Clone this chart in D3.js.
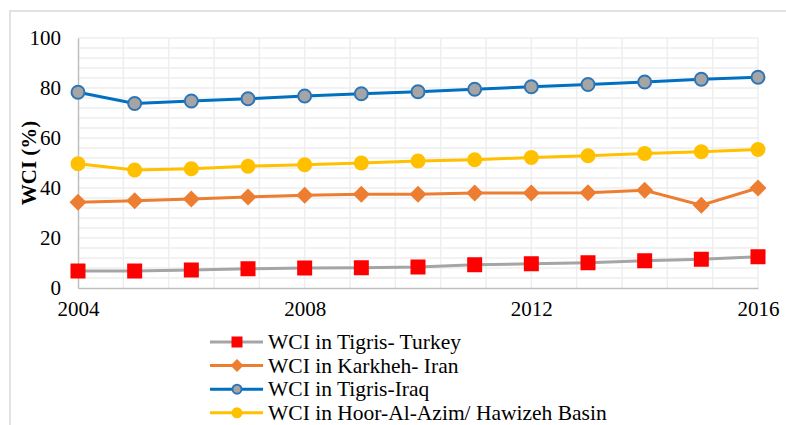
<!DOCTYPE html>
<html>
<head>
<meta charset="utf-8">
<script src="https://cdn.jsdelivr.net/npm/d3@7"></script>
</head>
<body style="margin:0; background:#fff">
<div id="chart"></div>
<script>
// years on the x axis
const years = [2004, 2005, 2006, 2007, 2008, 2009, 2010, 2011, 2012, 2013, 2014, 2015, 2016];
const xTicks = [2004, 2008, 2012, 2016];
const yTicks = [0, 20, 40, 60, 80, 100];

// WCI values (%)
const turkey = [6.8, 6.8, 7.2, 7.7, 8.0, 8.1, 8.4, 9.3, 9.7, 10.1, 10.9, 11.5, 12.5];
const iran   = [34.3, 34.9, 35.6, 36.4, 37.1, 37.5, 37.5, 38.0, 38.0, 38.1, 39.1, 33.1, 40.0];
const iraq   = [78.3, 73.8, 74.8, 75.7, 76.8, 77.7, 78.5, 79.5, 80.5, 81.4, 82.4, 83.5, 84.3];
const hoor   = [49.7, 47.2, 47.7, 48.7, 49.3, 50.0, 50.8, 51.3, 52.2, 52.9, 53.8, 54.5, 55.4];

const seriesNames = [
  "WCI in Tigris- Turkey",
  "WCI in Karkheh- Iran",
  "WCI in Tigris-Iraq",
  "WCI in Hoor-Al-Azim/ Hawizeh Basin"
];

const series = [
  { name: seriesNames[0], values: turkey, line: "#a5a5a5", marker: "square" },
  { name: seriesNames[1], values: iran, line: "#ed7d31", marker: "diamond" },
  { name: seriesNames[2], values: iraq, line: "#0070c0", marker: "ring" },
  { name: seriesNames[3], values: hoor, line: "#ffc000", marker: "dot" }
];

const FONT = "Liberation Serif";

const width = 786, height = 425;
const margin = { top: 38, right: 28, bottom: 137, left: 78 };
const innerW = width - margin.left - margin.right;
const innerH = height - margin.top - margin.bottom;

const svg = d3.select("#chart").append("svg")
  .attr("width", width)
  .attr("height", height)
  .attr("font-family", FONT);

// outer chart border (runs off the right/bottom edge)
svg.append("rect")
  .attr("x", 10).attr("y", 11)
  .attr("width", 800).attr("height", 450)
  .attr("fill", "none")
  .attr("stroke", "#d9d9d9")
  .attr("stroke-width", 1.5);

const x = d3.scaleLinear().domain([2004, 2016]).range([0, innerW]);
const y = d3.scaleLinear().domain([0, 100]).range([innerH, 0]);

const g = svg.append("g")
  .attr("transform", "translate(" + margin.left + "," + margin.top + ")");

// gridlines: 25 horizontal, 15 vertical divisions
g.append("g").selectAll("line")
  .data(d3.range(1, 26).map(i => i * 4))
  .enter().append("line")
  .attr("x1", 0).attr("x2", innerW)
  .attr("y1", d => y(d)).attr("y2", d => y(d))
  .attr("stroke", "#eeeeee").attr("stroke-width", 1.5);

g.append("g").selectAll("line")
  .data(d3.range(1, 16).map(i => 2004 + i * 12 / 15))
  .enter().append("line")
  .attr("x1", d => x(d)).attr("x2", d => x(d))
  .attr("y1", 0).attr("y2", innerH)
  .attr("stroke", "#eeeeee").attr("stroke-width", 1.5);

// axes
const yAxis = g.append("g")
  .call(d3.axisLeft(y).tickValues(yTicks).tickSize(0).tickPadding(17));
const xAxis = g.append("g")
  .attr("transform", "translate(0," + innerH + ")")
  .call(d3.axisBottom(x).tickValues(xTicks).tickFormat(d3.format("d")).tickSize(0).tickPadding(13));

[yAxis, xAxis].forEach(a => {
  a.attr("font-family", FONT).attr("font-size", 21);
  a.select(".domain").attr("stroke", "#bfbfbf").attr("stroke-width", 1.5);
  a.selectAll("text")
    .attr("font-family", FONT)
    .attr("font-size", 21)
    .attr("fill", "#000");
});

svg.append("text")
  .attr("transform", "translate(36," + (margin.top + innerH / 2) + ") rotate(-90)")
  .attr("text-anchor", "middle")
  .attr("font-family", FONT)
  .attr("font-size", 21)
  .attr("font-weight", "bold")
  .text("WCI (%)");

function drawMarker(sel, s, size) {
  if (s.marker === "square") {
    sel.append("rect")
      .attr("x", -size / 2).attr("y", -size / 2)
      .attr("width", size).attr("height", size)
      .attr("fill", "#ff0000");
  } else if (s.marker === "diamond") {
    const h = size / 2 + 1;
    sel.append("path")
      .attr("d", "M0," + (-h) + "L" + h + ",0L0," + h + "L" + (-h) + ",0Z")
      .attr("fill", "#ed7d31");
  } else if (s.marker === "ring") {
    sel.append("circle")
      .attr("r", size / 2 - 1)
      .attr("fill", "#a5a5a5")
      .attr("stroke", "#2e75b6")
      .attr("stroke-width", 2);
  } else {
    sel.append("circle")
      .attr("r", size / 2)
      .attr("fill", "#ffc000");
  }
}

const line = d3.line()
  .x((d, i) => x(years[i]))
  .y(d => y(d));

series.forEach(s => {
  g.append("path")
    .datum(s.values)
    .attr("fill", "none")
    .attr("stroke", s.line)
    .attr("stroke-width", 3)
    .attr("d", line);

  g.append("g").selectAll("g")
    .data(s.values)
    .enter().append("g")
    .attr("transform", (d, i) => "translate(" + x(years[i]) + "," + y(d) + ")")
    .each(function() { drawMarker(d3.select(this), s, 15); });
});

// legend
const legend = svg.append("g").attr("transform", "translate(210,342)");
series.forEach((s, i) => {
  const row = legend.append("g").attr("transform", "translate(0," + (i * 23.6) + ")");
  row.append("line")
    .attr("x1", 0).attr("x2", 53)
    .attr("stroke", s.line).attr("stroke-width", 3);
  const m = row.append("g").attr("transform", "translate(27,0)");
  drawMarker(m, s, 11);
  row.append("text")
    .attr("x", 58).attr("dy", "0.33em")
    .attr("font-family", FONT)
    .attr("font-size", 21.5)
    .text(s.name);
});
</script>
</body>
</html>
